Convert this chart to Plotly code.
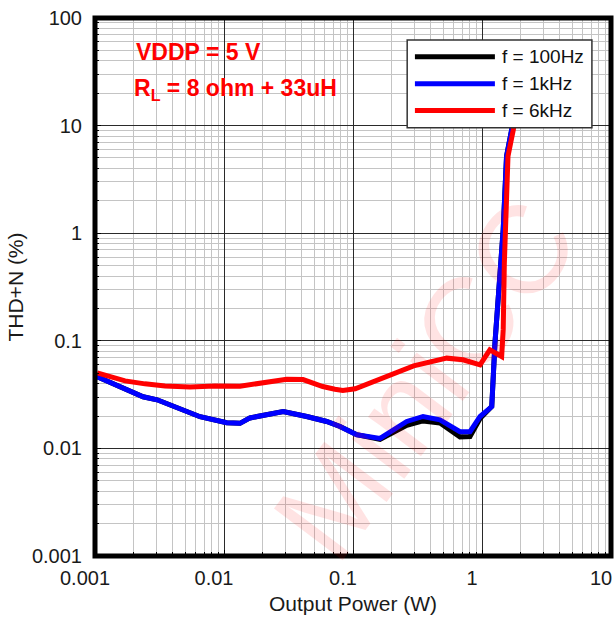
import plotly.graph_objects as go

# ---------------- data ----------------
power_100hz = [0.00103, 0.00165, 0.00236, 0.00303, 0.00433, 0.00652, 0.0105, 0.0133, 0.0159, 0.0202,
               0.0288, 0.0438, 0.0625, 0.0793, 0.107, 0.162, 0.261, 0.349, 0.472, 0.675, 0.807, 0.966,
               1.19, 1.26, 1.34, 1.46, 1.55, 1.70, 1.85]
thd_100hz = [0.0466, 0.0366, 0.0302, 0.0283, 0.0238, 0.0197, 0.0173, 0.0171, 0.0192, 0.0205,
             0.0220, 0.0198, 0.0178, 0.0160, 0.0134, 0.0121, 0.0164, 0.0180, 0.0172, 0.0128, 0.0129, 0.0190,
             0.0245, 0.095, 0.258, 1.08, 5.18, 9.18, 30]

power_1khz = [0.00103, 0.00165, 0.00236, 0.00303, 0.00433, 0.00652, 0.0105, 0.0133, 0.0159, 0.0202,
              0.0288, 0.0438, 0.0625, 0.0793, 0.107, 0.162, 0.261, 0.349, 0.472, 0.675, 0.807, 0.966,
              1.19, 1.26, 1.34, 1.46, 1.55, 1.70, 1.85]
thd_1khz = [0.0466, 0.0366, 0.0302, 0.0283, 0.0238, 0.0197, 0.0173, 0.0171, 0.0192, 0.0205,
            0.0220, 0.0198, 0.0178, 0.0160, 0.0134, 0.0124, 0.0178, 0.0198, 0.0184, 0.0143, 0.0143, 0.0198,
            0.0245, 0.095, 0.258, 1.08, 5.18, 9.18, 30]

power_6khz = [0.00104, 0.00131, 0.00171, 0.00244, 0.00349, 0.00545, 0.0085, 0.0133, 0.019, 0.0306,
              0.041, 0.0583, 0.0724, 0.0834, 0.104, 0.162, 0.295, 0.532, 0.713, 0.966, 1.15, 1.42,
              1.46, 1.49, 1.55, 1.59, 1.75, 2.0]
thd_6khz = [0.0503, 0.0463, 0.0424, 0.0398, 0.0381, 0.0373, 0.0381, 0.0378, 0.0407, 0.0440,
            0.0436, 0.0376, 0.0355, 0.0345, 0.0358, 0.0440, 0.0585, 0.0690, 0.0666, 0.0598, 0.0825, 0.0715,
            0.127, 0.528, 2.2, 5.18, 9.2, 27]

series_names = ["f = 100Hz", "f = 1kHz", "f = 6kHz"]
series_colors = ["#000000", "#0000ff", "#ff0000"]

x_tickvals = [0.001, 0.01, 0.1, 1, 10]
x_ticktext = ["0.001", "0.01", "0.1", "1", "10"]
y_tickvals = [0.001, 0.01, 0.1, 1, 10, 100]
y_ticktext = ["0.001", "0.01", "0.1", "1", "10", "100"]

FONT = "Arial, 'Liberation Sans', sans-serif"

fig = go.Figure()
for xs, ys, name, col in [(power_100hz, thd_100hz, series_names[0], series_colors[0]),
                          (power_1khz, thd_1khz, series_names[1], series_colors[1]),
                          (power_6khz, thd_6khz, series_names[2], series_colors[2])]:
    fig.add_trace(go.Scatter(x=xs, y=ys, mode="lines", name=name,
                             line=dict(color=col, width=5), showlegend=False,
                             cliponaxis=True))

axis_common = dict(
    type="log", showgrid=True, gridcolor="#2a2a2a", gridwidth=1,
    ticks="inside", ticklen=6, tickcolor="black", tickwidth=1,
    zeroline=False, showline=False,
    tickfont=dict(family=FONT, size=20, color="#1a1a1a"),
    minor=dict(dtick="D1", showgrid=True, gridcolor="#c4c4c4", gridwidth=1,
               ticks="inside", ticklen=4, tickcolor="black"),
)

fig.update_xaxes(range=[-3, 1], tickvals=x_tickvals, ticktext=x_ticktext,
                 ticklabelstandoff=8, ticklabelshift=-10,
                 title=dict(text="Output Power (W)", font=dict(family=FONT, size=21, color="#1a1a1a"),
                            standoff=8),
                 **axis_common)
fig.update_yaxes(range=[-3, 2], tickvals=y_tickvals, ticktext=y_ticktext,
                 ticklabelstandoff=12,
                 title=dict(text="THD+N (%)", font=dict(family=FONT, size=21, color="#1a1a1a"),
                            standoff=2),
                 **axis_common)

shapes = []
# thick frame
shapes.append(dict(type="rect", xref="paper", yref="paper", x0=0, y0=0, x1=1, y1=1,
                   line=dict(color="black", width=5), layer="above"))
# legend box
lx0, lx1, ly0, ly1 = 0.605, 0.963, 0.796, 0.959
shapes.append(dict(type="rect", xref="paper", yref="paper", x0=lx0, x1=lx1, y0=ly0, y1=ly1,
                   line=dict(color="#333333", width=1.5), fillcolor="white", layer="above"))
rows = [0.928, 0.878, 0.828]
annotations = []
for name, col, ry in zip(series_names, series_colors, rows):
    shapes.append(dict(type="line", xref="paper", yref="paper", x0=0.620, x1=0.775, y0=ry, y1=ry,
                       line=dict(color=col, width=5), layer="above"))
    annotations.append(dict(xref="paper", yref="paper", x=0.785, y=ry, text=name, showarrow=False,
                            xanchor="left", yanchor="middle",
                            font=dict(family=FONT, size=19, color="#111111")))

annotations.append(dict(xref="paper", yref="paper", x=0.075, y=0.937, text="<b>VDDP = 5 V</b>",
                        showarrow=False, xanchor="left", yanchor="middle",
                        font=dict(family=FONT, size=23, color="#ff0000")))
annotations.append(dict(xref="paper", yref="paper", x=0.072, y=0.868,
                        text="<b>R<sub>L</sub> = 8 ohm + 33uH</b>",
                        showarrow=False, xanchor="left", yanchor="middle",
                        font=dict(family=FONT, size=23, color="#ff0000")))
# faint watermark
annotations.append(dict(xref="paper", yref="paper", x=0.64, y=0.33, text="MiniCC",
                        showarrow=False, textangle=-53, xanchor="center", yanchor="middle",
                        font=dict(family=FONT, size=125, color="rgba(255,0,0,0.11)")))

fig.update_layout(
    width=616, height=619,
    margin=dict(l=95, r=5, t=18, b=63, autoexpand=False),
    plot_bgcolor="white", paper_bgcolor="white",
    shapes=shapes, annotations=annotations,
    showlegend=False,
)

fig.write_html("out.html")
